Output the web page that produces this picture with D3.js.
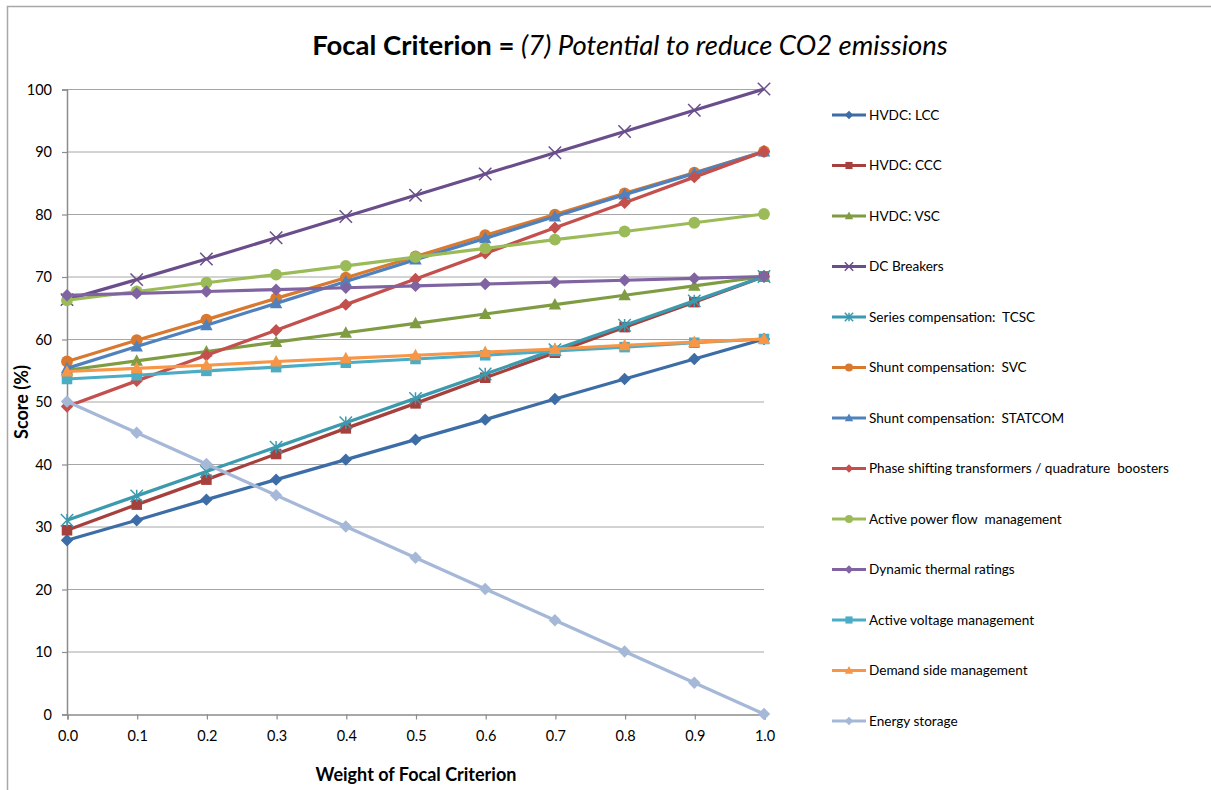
<!DOCTYPE html>
<html>
<head>
<meta charset="utf-8">
<script src="https://cdn.jsdelivr.net/npm/d3@7"></script>
<style>
  body { margin: 0; background: #fff; }
  svg { display: block; font-family: Lato, "Open Sans", "Liberation Sans", sans-serif; }
</style>
</head>
<body>
<svg id="chart" width="1211" height="790"></svg>
<script>
// Weights of the focal criterion (x axis)
const weights = [0.0, 0.1, 0.2, 0.3, 0.4, 0.5, 0.6, 0.7, 0.8, 0.9, 1.0];
const xTicks = [0.0, 0.1, 0.2, 0.3, 0.4, 0.5, 0.6, 0.7, 0.8, 0.9, 1.0];
const yTicks = [0, 10, 20, 30, 40, 50, 60, 70, 80, 90, 100];

// Technology names, in legend order
const seriesNames = [
  "HVDC: LCC",
  "HVDC: CCC",
  "HVDC: VSC",
  "DC Breakers",
  "Series compensation:  TCSC",
  "Shunt compensation:  SVC",
  "Shunt compensation:  STATCOM",
  "Phase shifting transformers / quadrature  boosters",
  "Active power flow  management",
  "Dynamic thermal ratings",
  "Active voltage management",
  "Demand side management",
  "Energy storage"
];

// Score (%) for each technology at each weight
const hvdcLcc      = [27.8, 31.0, 34.3, 37.5, 40.7, 43.9, 47.1, 50.4, 53.6, 56.8, 60.0];
const hvdcCcc      = [29.4, 33.5, 37.5, 41.6, 45.7, 49.7, 53.8, 57.8, 61.9, 65.9, 70.0];
const hvdcVsc      = [55.0, 56.5, 58.0, 59.5, 61.0, 62.5, 64.0, 65.5, 67.0, 68.5, 70.0];
const dcBreakers   = [66.3, 69.5, 72.8, 76.2, 79.6, 83.0, 86.4, 89.8, 93.2, 96.6, 100.0];
const seriesTcsc   = [31.0, 34.9, 38.8, 42.7, 46.6, 50.5, 54.4, 58.3, 62.2, 66.1, 70.0];
const shuntSvc     = [56.4, 59.8, 63.1, 66.5, 69.8, 73.2, 76.6, 79.9, 83.3, 86.6, 90.0];
const shuntStatcom = [55.3, 58.8, 62.2, 65.7, 69.2, 72.7, 76.1, 79.6, 83.1, 86.5, 90.0];
const phaseShift   = [49.2, 53.3, 57.4, 61.4, 65.5, 69.6, 73.7, 77.8, 81.8, 85.9, 90.0];
const activePower  = [66.2, 67.6, 69.0, 70.3, 71.7, 73.1, 74.5, 75.9, 77.2, 78.6, 80.0];
const thermalRate  = [67.0, 67.3, 67.6, 67.9, 68.2, 68.5, 68.8, 69.1, 69.4, 69.7, 70.0];
const activeVolt   = [53.6, 54.2, 54.9, 55.5, 56.2, 56.8, 57.4, 58.1, 58.7, 59.4, 60.0];
const demandSide   = [54.8, 55.3, 55.8, 56.4, 56.9, 57.4, 57.9, 58.4, 59.0, 59.5, 60.0];
const energyStore  = [50.0, 45.0, 40.0, 35.0, 30.0, 25.0, 20.0, 15.0, 10.0, 5.0, 0.0];

const seriesValues = [hvdcLcc, hvdcCcc, hvdcVsc, dcBreakers, seriesTcsc, shuntSvc,
  shuntStatcom, phaseShift, activePower, thermalRate, activeVolt, demandSide, energyStore];

// Styling per series
const colors = ["#3d6da6", "#a6403d", "#7f9c43", "#6a4e8c", "#3b9aae", "#d9782f",
  "#4f81bd", "#c4504d", "#9bbb59", "#8064a2", "#4bacc6", "#f79646", "#a6b8d8"];
const markers = ["diamond", "square", "triangle", "x", "star", "circle",
  "triangle", "diamond", "circle", "diamond", "square", "triangle", "diamond"];

const svg = d3.select("#chart");

// Outer chart frame
svg.append("path")
  .attr("d", "M7.5,790 L7.5,6.5 L1211,6.5")
  .attr("fill", "none").attr("stroke", "#a8a8a8").attr("stroke-width", 1.5);

const x = d3.scaleLinear().domain([0, 1]).range([67, 764]);
const y = d3.scaleLinear().domain([0, 100]).range([714, 89]);

// Horizontal gridlines
svg.append("g").selectAll("line").data(yTicks.filter(d => d > 0)).join("line")
  .attr("x1", x(0)).attr("x2", x(1))
  .attr("y1", d => y(d) + 0.5).attr("y2", d => y(d) + 0.5)
  .attr("stroke", "#a6a6a6").attr("stroke-width", 1);

// Y axis
const yAxis = svg.append("g").attr("transform", `translate(${x(0)},0.5)`)
  .call(d3.axisLeft(y).tickValues(yTicks).tickSize(5).tickPadding(10).tickFormat(d3.format("d")));
// X axis
const xAxis = svg.append("g").attr("transform", `translate(0.5,${y(0) + 0.5})`)
  .call(d3.axisBottom(x).tickValues(xTicks).tickSize(5).tickPadding(11).tickFormat(d3.format(".1f")));

[yAxis, xAxis].forEach(g => {
  g.select(".domain").attr("stroke", "#8c8c8c").attr("stroke-width", 1.5);
  g.selectAll(".tick line").attr("stroke", "#8c8c8c").attr("stroke-width", 1.2);
  g.selectAll(".tick text").attr("fill", "#000").style("font-size", "14.5px")
    .style("font-family", "Lato, 'Open Sans', sans-serif");
});

// Marker drawing
function drawMarker(g, type, color, size) {
  const s = size;
  if (type === "diamond") {
    g.append("path").attr("d", `M0,${-s} L${s},0 L0,${s} L${-s},0 Z`).attr("fill", color);
  } else if (type === "square") {
    g.append("rect").attr("x", -s * 0.85).attr("y", -s * 0.85)
      .attr("width", s * 1.7).attr("height", s * 1.7).attr("fill", color);
  } else if (type === "triangle") {
    g.append("path").attr("d", `M0,${-s * 1.05} L${s},${s * 0.8} L${-s},${s * 0.8} Z`).attr("fill", color);
  } else if (type === "circle") {
    g.append("circle").attr("r", s * 0.95).attr("fill", color);
  } else if (type === "x") {
    g.append("path").attr("d", `M${-s},${-s} L${s},${s} M${-s},${s} L${s},${-s}`)
      .attr("stroke", color).attr("stroke-width", 1.5).attr("fill", "none");
  } else if (type === "star") {
    g.append("path").attr("d", `M${-s},${-s} L${s},${s} M${-s},${s} L${s},${-s} M0,${-s} L0,${s}`)
      .attr("stroke", color).attr("stroke-width", 1.5).attr("fill", "none");
  }
}

const line = d3.line().x((d, i) => x(weights[i])).y(d => y(d));

// Series lines and markers
seriesValues.forEach((vals, k) => {
  const g = svg.append("g");
  g.append("path").datum(vals).attr("d", line)
    .attr("fill", "none").attr("stroke", colors[k]).attr("stroke-width", 3.2)
    .attr("stroke-linejoin", "round");
  vals.forEach((v, i) => {
    const m = g.append("g").attr("transform", `translate(${x(weights[i])},${y(v)})`);
    drawMarker(m, markers[k], colors[k], 6.2);
  });
});

// Legend
const legend = svg.append("g");
seriesNames.forEach((name, k) => {
  const ly = 115 + k * 50.5;
  const lg = legend.append("g").attr("transform", `translate(0,${ly})`);
  lg.append("line").attr("x1", 832).attr("x2", 866).attr("y1", 0).attr("y2", 0)
    .attr("stroke", colors[k]).attr("stroke-width", 3.2);
  const m = lg.append("g").attr("transform", "translate(849,0)");
  drawMarker(m, markers[k], colors[k], 4.2);
  lg.append("text").attr("x", 869).attr("y", 0).attr("dy", "0.35em")
    .style("font-size", "13.6px").attr("fill", "#000").attr("xml:space", "preserve").text(name);
});

// Title
const title = svg.append("text").attr("x", 630).attr("y", 55).attr("text-anchor", "middle")
  .style("font-size", "27.5px").attr("fill", "#000");
title.append("tspan").attr("font-weight", "bold").text("Focal Criterion = ");
title.append("tspan").attr("font-style", "italic").text("(7) Potential to reduce CO2 emissions");

// Axis titles
svg.append("text").attr("x", 416).attr("y", 781).attr("text-anchor", "middle")
  .attr("font-weight", "bold").style("font-size", "18px").text("Weight of Focal Criterion");
svg.append("text").attr("transform", "translate(28,402) rotate(-90)").attr("text-anchor", "middle")
  .attr("font-weight", "bold").style("font-size", "18px").text("Score (%)");
</script>
</body>
</html>
